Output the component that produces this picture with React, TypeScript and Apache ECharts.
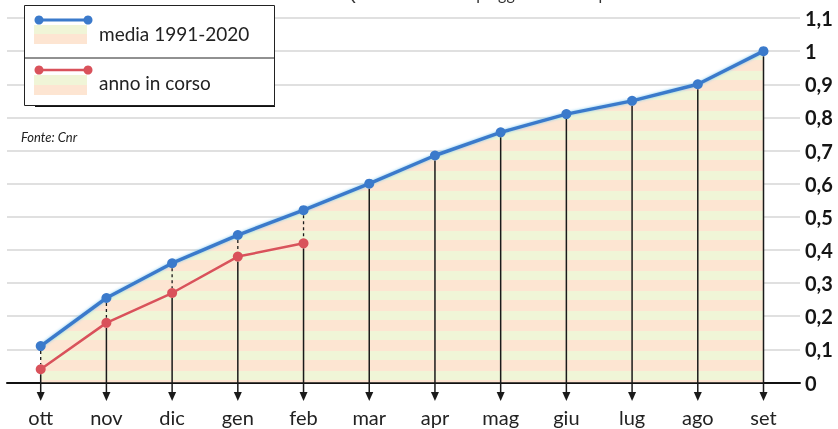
import React, { useEffect, useRef } from 'react';
import * as echarts from 'echarts';

const months = ['ott', 'nov', 'dic', 'gen', 'feb', 'mar', 'apr', 'mag', 'giu', 'lug', 'ago', 'set'];
const media = [0.11, 0.255, 0.36, 0.445, 0.52, 0.6, 0.685, 0.755, 0.81, 0.85, 0.9, 1.0];
const anno = [0.04, 0.18, 0.27, 0.38, 0.42];
const legendLabels = ['media 1991-2020', 'anno in corso'];
const sourceText = 'Fonte: Cnr';
const titleText = 'Quota cumulata di pioggia caduta rispetto alla media annuale in mm';

const BLUE = '#3b7acb';
const RED = '#d9525b';
const PEACH = '#fde5d2';
const GREEN = '#f0f5d7';
const FONT = 'Lato, "Open Sans", sans-serif';

function makeStripe(): string {
  const c = document.createElement('canvas');
  c.width = 4;
  c.height = 20;
  const ctx = c.getContext('2d')!;
  ctx.fillStyle = PEACH;
  ctx.fillRect(0, 0, 4, 11);
  ctx.fillStyle = GREEN;
  ctx.fillRect(0, 11, 4, 9);
  return c.toDataURL();
}

export default function App() {
  const ref = useRef<HTMLDivElement>(null);
  useEffect(() => {
    if (!ref.current) return;
    const chart = echarts.init(ref.current, undefined, { renderer: 'svg' });
    const stripe = { image: makeStripe(), repeat: 'repeat', imageWidth: 4, imageHeight: 20 } as any;
    const arrowData = months.map((_, i) => [i, media[i], i < anno.length ? anno[i] : NaN]);

    const gridTop = 18;
    const gridBottom = 46.5;
    const LZ = 100;

    const legendChildren: any[] = [
      { type: 'rect', shape: { x: 11, y: 98, width: 240, height: 4 }, style: { fill: '#111' } },
      { type: 'rect', shape: { x: 0.5, y: 0.5, width: 250, height: 100 }, style: { fill: '#fff', stroke: '#222', lineWidth: 1 } },
      { type: 'line', shape: { x1: 0.5, y1: 53, x2: 250.5, y2: 53 }, style: { stroke: '#222', lineWidth: 1 } },
      { type: 'rect', shape: { x: 10, y: 20, width: 53, height: 9 }, style: { fill: GREEN } },
      { type: 'rect', shape: { x: 10, y: 29, width: 53, height: 10 }, style: { fill: PEACH } },
      { type: 'line', shape: { x1: 15, y1: 15, x2: 64, y2: 15 }, style: { stroke: BLUE, lineWidth: 3 } },
      { type: 'circle', shape: { cx: 15, cy: 15, r: 4.5 }, style: { fill: BLUE } },
      { type: 'circle', shape: { cx: 64, cy: 15, r: 4.5 }, style: { fill: BLUE } },
      { type: 'text', x: 75, y: 28, style: { text: legendLabels[0], font: `19px ${FONT}`, fill: '#222', verticalAlign: 'middle' } },
      { type: 'rect', shape: { x: 10, y: 70, width: 53, height: 10 }, style: { fill: GREEN } },
      { type: 'rect', shape: { x: 10, y: 80, width: 53, height: 10 }, style: { fill: PEACH } },
      { type: 'line', shape: { x1: 15, y1: 65, x2: 64, y2: 65 }, style: { stroke: RED, lineWidth: 2.5 } },
      { type: 'circle', shape: { cx: 15, cy: 65, r: 4.5 }, style: { fill: RED } },
      { type: 'circle', shape: { cx: 64, cy: 65, r: 4.5 }, style: { fill: RED } },
      { type: 'text', x: 75, y: 77, style: { text: legendLabels[1], font: `19px ${FONT}`, fill: '#222', verticalAlign: 'middle' } },
    ].map((c, k) => ({ ...c, z: LZ + k }));

    const option: any = {
      animation: false,
      grid: [
        { left: 40.7, right: 74.5, top: gridTop, bottom: gridBottom },
        { left: 7, right: 38, top: gridTop, bottom: gridBottom },
      ],
      xAxis: [
        {
          type: 'category',
          gridIndex: 0,
          data: months,
          boundaryGap: false,
          axisLine: { show: false },
          axisTick: { show: false },
          splitLine: { show: false },
          axisLabel: { margin: 24, fontSize: 20, color: '#222', fontFamily: FONT },
        },
        {
          type: 'value',
          gridIndex: 1,
          min: 0,
          max: 1,
          axisLine: { show: true, onZero: false, lineStyle: { color: '#111', width: 2 } },
          axisTick: { show: false },
          axisLabel: { show: false },
          splitLine: { show: false },
        },
      ],
      yAxis: [
        { type: 'value', gridIndex: 0, min: 0, max: 1.1, interval: 0.1, show: false },
        {
          type: 'value',
          gridIndex: 1,
          position: 'right',
          min: 0,
          max: 1.1,
          interval: 0.1,
          axisLine: { show: false },
          axisTick: { show: false },
          splitLine: { show: true, lineStyle: { color: '#d6d6d6', width: 1.5 } },
          axisLabel: {
            margin: 5,
            fontSize: 20,
            fontWeight: 'bold',
            color: '#151515',
            fontFamily: FONT,
            formatter: (v: number) => (Math.round(v * 10) / 10).toString().replace('.', ','),
          },
        },
      ],
      series: [
        {
          type: 'line',
          xAxisIndex: 0,
          yAxisIndex: 0,
          data: media,
          showSymbol: false,
          lineStyle: { width: 0 },
          areaStyle: { color: stripe, opacity: 1 },
          z: 1,
          silent: true,
        },
        {
          type: 'custom',
          xAxisIndex: 0,
          yAxisIndex: 0,
          data: arrowData,
          encode: { x: 0, y: 1 },
          z: 2,
          renderItem: (params: any, api: any) => {
            const i = api.value(0);
            const top = api.coord([i, api.value(1)]);
            const rv = api.value(2);
            const x = top[0];
            const tipY = 401;
            const color = '#1a1a1a';
            const children: any[] = [];
            if (rv != null && !isNaN(rv)) {
              const r = api.coord([i, rv]);
              children.push({
                type: 'line',
                shape: { x1: x, y1: top[1] + 5, x2: x, y2: r[1] - 5 },
                style: { stroke: color, lineWidth: 1.3, lineDash: [3, 3] },
              });
              children.push({
                type: 'line',
                shape: { x1: x, y1: r[1] + 5, x2: x, y2: tipY - 6 },
                style: { stroke: color, lineWidth: 1.5 },
              });
            } else {
              children.push({
                type: 'line',
                shape: { x1: x, y1: top[1] + 5, x2: x, y2: tipY - 6 },
                style: { stroke: color, lineWidth: 1.5 },
              });
            }
            children.push({
              type: 'polygon',
              shape: { points: [[x - 4, tipY - 9], [x + 4, tipY - 9], [x, tipY]] },
              style: { fill: color },
            });
            return { type: 'group', children };
          },
        },
        {
          type: 'line',
          name: legendLabels[0],
          xAxisIndex: 0,
          yAxisIndex: 0,
          data: media,
          symbol: 'circle',
          symbolSize: 10,
          lineStyle: { color: BLUE, width: 3.5, shadowColor: 'rgba(120,200,240,0.9)', shadowBlur: 3 },
          itemStyle: { color: BLUE },
          z: 3,
        },
        {
          type: 'line',
          name: legendLabels[1],
          xAxisIndex: 0,
          yAxisIndex: 0,
          data: anno,
          symbol: 'circle',
          symbolSize: 10,
          lineStyle: { color: RED, width: 2.5 },
          itemStyle: { color: RED },
          z: 4,
        },
      ],
      graphic: [
        {
          type: 'text',
          left: 343,
          top: -15,
          z: 10,
          style: { text: titleText, font: `16px ${FONT}`, fill: '#333' },
        },
        {
          type: 'group',
          left: 22,
          top: 5,
          z: LZ,
          children: legendChildren,
        },
        {
          type: 'text',
          left: 21,
          top: 130,
          z: LZ,
          style: { text: sourceText, font: `italic 13px ${FONT}`, fill: '#222' },
        },
      ],
    };
    chart.setOption(option);
    return () => chart.dispose();
  }, []);
  return <div ref={ref} style={{ position: 'fixed', left: 0, top: 0, width: 838, height: 429 }} />;
}
